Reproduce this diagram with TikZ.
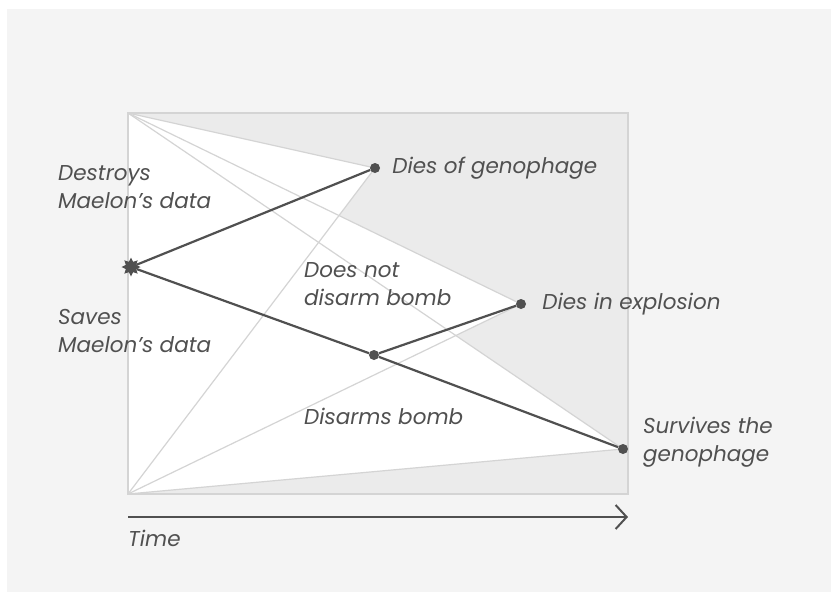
\documentclass[tikz,border=0pt]{standalone}
\usepackage{fontspec}
\setmainfont{Poppins}
\usetikzlibrary{positioning,arrows.meta,shapes.geometric}

\definecolor{panel}{HTML}{F4F4F4}
\definecolor{boxgray}{HTML}{EBEBEB}
\definecolor{faint}{HTML}{D4D4D4}
\definecolor{ink}{HTML}{505050}

\tikzset{
    dot/.style = {circle, fill = ink, minimum size = 10pt, inner sep = 0pt},
    label text/.style = {text = ink, font = \fontsize{21.5}{28}\selectfont\itshape,
                         align = left, inner sep = 0pt},
    path line/.style = {ink, line width = 2.2pt},
    faint line/.style = {faint, line width = 1.2pt}
}

\begin{document}
\begin{tikzpicture}[x = 1pt, y = -1pt]
        \useasboundingbox (0,0) rectangle (831,592);
        \fill[white] (0,0) rectangle (831,592);
        \fill[panel] (7,9) rectangle (831,592);

        % corners of the time frame
        \coordinate (tl) at (128,113);
        \coordinate (bl) at (128,494);
        \coordinate (br) at (628,494);

        % end points and choices
        \coordinate (pg) at (375,168);
        \coordinate (pe) at (521,304);
        \coordinate (ps) at (623,449);

        \fill[boxgray] (tl) rectangle (br);
        \begin{scope}[fill = white]
            \fill (tl) -- (pg) -- (bl) -- cycle;
            \fill (tl) -- (pe) -- (bl) -- cycle;
            \fill (tl) -- (ps) -- (bl) -- cycle;
        \end{scope}
        \draw[faint, line width = 2pt] (tl) rectangle (br);

        \foreach \p in {pg,pe,ps} {
            \draw[faint line] (tl) -- (\p);
            \draw[faint line] (bl) -- (\p);
        }

        \node[dot] (dg) at (pg) {};
        \node[dot] (de) at (pe) {};
        \node[dot] (sg) at (ps) {};
        \node[dot] (mid) at (374,355) {};
        \node[star, star points = 8, star point ratio = 1.7, fill = ink,
              minimum size = 19pt, inner sep = 0pt] (save) at (131,267) {};

        \draw[path line] (save) -- (dg);
        \draw[path line] (save) -- (mid);
        \draw[path line] (mid) -- (sg);
        \draw[path line] (mid) -- (de);

        % labels
        \node[label text, right = 12pt of dg] (tdg) {Dies of genophage};
        \node[label text, right = 16pt of de] (tde) {Dies in explosion};
        \node[label text, anchor = west] (tsg) at (643,442) {Survives the\\genophage};
        \node[label text, anchor = west] (tdestroy) at (58,187) {Destroys\\Maelon’s data};
        \node[label text, anchor = west] (tsaves) at (58,331) {Saves\\Maelon’s data};
        \node[label text, anchor = west] (tnot) at (304,284) {Does not\\disarm bomb};
        \node[label text, anchor = west] (tdisarm) at (304,416) {Disarms bomb};

        % time axis
        \coordinate (t0) at (128,517);
        \coordinate (t1) at (628,517);
        \draw[ink, line width = 2pt, -{Straight Barb[length = 11pt, width = 24pt]}] (t0) -- (t1);
        \node[label text, anchor = north west] (ttime) at (128,530) {Time};
    \end{tikzpicture}
\end{document}
